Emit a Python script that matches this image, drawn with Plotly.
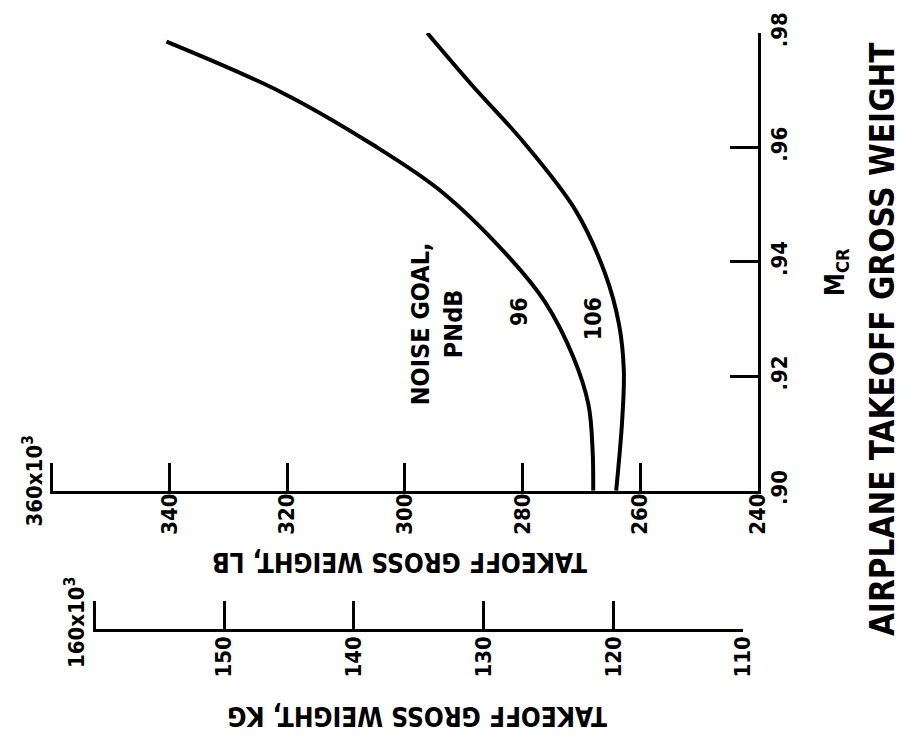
import plotly.graph_objects as go

LB_PER_KG = 2.20462

# Cruise Mach number vs. airplane takeoff gross weight (thousands of lb)
mach_96 = [0.900, 0.907, 0.915, 0.9234, 0.933, 0.9407, 0.9523, 0.9605, 0.9697, 0.9785]
weight_96 = [268.0, 268.1, 268.8, 271.4, 276.2, 282.2, 293.8, 305.5, 321.1, 340.5]

mach_106 = [0.900, 0.912, 0.921, 0.929, 0.938, 0.949, 0.961, 0.971, 0.980]
weight_106 = [264.1, 263.1, 262.8, 263.6, 266.0, 271.0, 279.9, 288.7, 296.2]

# the end of each weight scale carries its multiplier in a separate label
lb_ticks = [240, 260, 280, 300, 320, 340, 360]
lb_labels = ["240", "260", "280", "300", "320", "340", ""]
lb_end_label = "360x10<sup>3</sup>"
kg_ticks = [110, 120, 130, 140, 150, 160]
kg_labels = ["110", "120", "130", "140", "150", ""]
kg_end_label = "160x10<sup>3</sup>"
mach_ticks = [0.90, 0.92, 0.94, 0.96, 0.98]
mach_labels = [".90", ".92", ".94", ".96", ".98"]

# page geometry (pixels)
W, H = 907, 743
LEFT, RIGHT, TOP = 50, 758, 23
X_AXIS_Y = 488
KG_AXIS_Y = 630
PAPER_BOTTOM = 660
paper_w = RIGHT - LEFT
paper_h = PAPER_BOTTOM - TOP


def px(x):
    return (x - LEFT) / paper_w


def py(y):
    return (PAPER_BOTTOM - y) / paper_h


# a hair of extra range past the far end so its tick mark is kept
PAD_LB = 0.3
lb_lo, lb_hi = min(lb_ticks), max(lb_ticks) + PAD_LB
kg_lo, kg_hi = min(kg_ticks), max(kg_ticks) + PAD_LB / LB_PER_KG
kg_dom = [(lb_hi - kg_hi * LB_PER_KG) / (lb_hi - lb_lo),
          (lb_hi - kg_lo * LB_PER_KG) / (lb_hi - lb_lo)]

FONT = "DejaVu Sans Condensed, DejaVu Sans, sans-serif"
INK = "black"


def font(size):
    return dict(family=FONT, size=size, color=INK, weight="bold")


fig = go.Figure()
line_style = dict(color=INK, width=4, shape="spline", smoothing=1.0)
fig.add_trace(go.Scatter(x=weight_96, y=mach_96, mode="lines", line=line_style,
                         name="96", showlegend=False, hoverinfo="skip"))
fig.add_trace(go.Scatter(x=weight_106, y=mach_106, mode="lines", line=line_style,
                         name="106", showlegend=False, hoverinfo="skip"))
# carrier for the kilogram scale
fig.add_trace(go.Scatter(x=[kg_lo, max(kg_ticks)], y=[0.9, 0.9], xaxis="x2", yaxis="y",
                         mode="markers", marker=dict(opacity=0), showlegend=False,
                         hoverinfo="skip"))

tick_font = font(22)
axis_common = dict(showline=True, linecolor=INK, linewidth=3, ticks="inside",
                   ticklen=28, tickwidth=3, tickcolor=INK, showgrid=False,
                   zeroline=False, tickfont=tick_font, tickangle=-90,
                   tickmode="array")

fig.update_layout(
    width=W, height=H,
    margin=dict(l=LEFT, r=W - RIGHT, t=TOP, b=H - PAPER_BOTTOM),
    paper_bgcolor="white", plot_bgcolor="rgba(0,0,0,0)",
    xaxis=dict(range=[lb_hi, lb_lo], tickvals=lb_ticks, ticktext=lb_labels,
               domain=[0, 1], anchor="y", ticklabelstandoff=-9, **axis_common),
    xaxis2=dict(range=[kg_hi, kg_lo], tickvals=kg_ticks, ticktext=kg_labels,
                domain=kg_dom, anchor="free", position=py(KG_AXIS_Y),
                ticklabelstandoff=-5, **axis_common),
    yaxis=dict(range=[0.90, 0.98], tickvals=mach_ticks, ticktext=mach_labels,
               side="right", anchor="x", domain=[py(X_AXIS_Y), 1],
               ticklabelstandoff=0, **axis_common),
)


def note(text, x, y, size, angle=-90, xref="paper", yref="paper", **kw):
    d = dict(text=text, xref=xref, yref=yref, x=x, y=y, textangle=angle,
             xanchor="center", yanchor="middle", showarrow=False, font=font(size))
    d.update(kw)
    return d


ann = [
    note(lb_end_label, max(lb_ticks), 0.90, 22, xref="x", yref="y",
         xanchor="right", xshift=-3, yshift=10),
    note(kg_end_label, max(kg_ticks), py(KG_AXIS_Y), 22, xref="x2",
         xanchor="right", xshift=-3, yshift=8),
    note("TAKEOFF GROSS WEIGHT, LB", px(400), py(561), 26, angle=180),
    note("TAKEOFF GROSS WEIGHT, KG", px(417), py(717), 26, angle=180),
    note("AIRPLANE TAKEOFF GROSS WEIGHT", px(882), py(334), 33),
    note("M<sub>CR</sub>", px(836), py(266), 26),
    note("NOISE GOAL,<br>PNdB", 294.6, 0.9292, 25, xref="x", yref="y"),
    note("96", 280.7, 0.9313, 23, xref="x", yref="y"),
    note("106", 268.0, 0.930, 23, xref="x", yref="y"),
]
fig.update_layout(annotations=ann)

fig.write_html("out.html")
